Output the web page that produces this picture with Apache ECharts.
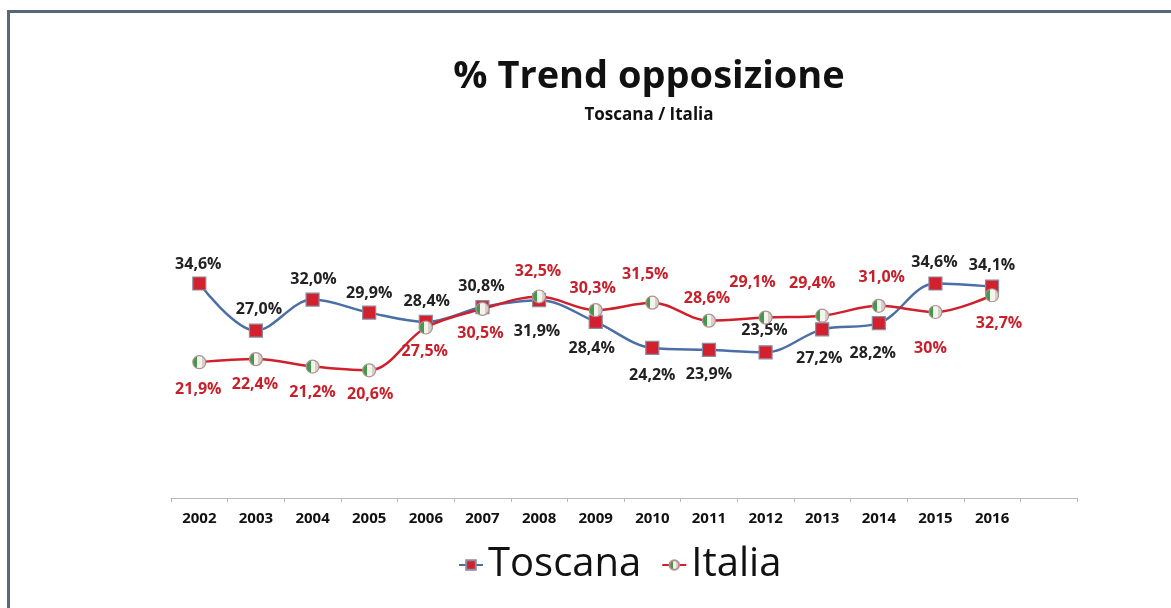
<!DOCTYPE html>
<html>
<head>
<meta charset="utf-8">
<script src="https://cdn.jsdelivr.net/npm/echarts@6/dist/echarts.min.js"></script>
<style>
  html, body { margin: 0; padding: 0; background: #fff; }
  #frame {
    position: absolute; left: 7px; top: 10px; width: 1200px; height: 640px;
    border-top: 3px solid #56667f; border-left: 3px solid #56667f;
  }
  #chart { position: absolute; left: 0; top: 0; width: 1171px; height: 608px; }
</style>
</head>
<body>
<div id="frame"></div>
<div id="chart"></div>
<script>
// Percentage of opposition by year, Tuscany vs Italy
const years = ['2002','2003','2004','2005','2006','2007','2008','2009','2010','2011','2012','2013','2014','2015','2016',''];
const toscana = [34.6, 27.0, 32.0, 29.9, 28.4, 30.8, 31.9, 28.4, 24.2, 23.9, 23.5, 27.2, 28.2, 34.6, 34.1, null];
const italia  = [21.9, 22.4, 21.2, 20.6, 27.5, 30.5, 32.5, 30.3, 31.5, 28.6, 29.1, 29.4, 31.0, 30.0, 32.7, null];
const italiaText = ['21,9%','22,4%','21,2%','20,6%','27,5%','30,5%','32,5%','30,3%','31,5%','28,6%','29,1%','29,4%','31,0%','30%','32,7%'];

// label placement around each marker (dx, dy from the point)
const toscanaLabelShift = [[-1,-19],[3,-21],[1,-20],[0,-19],[1,-20],[-1,-21],[-2,31],[-4,27],[0,27],[0,25],[-1,-22],[-3,29],[-6,30],[-1,-21],[0,-21]];
const italiaLabelShift = [[-1,27],[-1,25],[0,26],[1,24],[-1,24],[-2,25],[-1,-25],[-3,-22],[-7,-28],[-2,-22],[-13,-35],[-10,-32],[3,-28],[-5,36],[7,28]];

const fontFamily = '"Open Sans", "Liberation Sans", sans-serif';

function fmt(v) { return v.toFixed(1).replace('.', ',') + '%'; }

const flagFill = new echarts.graphic.LinearGradient(0, 0, 1, 0, [
  { offset: 0, color: '#3f9a4a' }, { offset: 0.36, color: '#3f9a4a' },
  { offset: 0.36, color: '#f4f4ee' }, { offset: 0.68, color: '#f4f4ee' },
  { offset: 0.68, color: '#d8d0c8' }, { offset: 1, color: '#d8d0c8' }
]);

const toscanaData = toscana.map((v, i) => v == null ? null : {
  value: v,
  label: { offset: toscanaLabelShift[i], formatter: fmt(v) }
});
const italiaData = italia.map((v, i) => v == null ? null : {
  value: v,
  label: { offset: italiaLabelShift[i], formatter: italiaText[i] }
});

const chart = echarts.init(document.getElementById('chart'), null, { renderer: 'canvas' });
chart.setOption({
  animation: false,
  backgroundColor: 'transparent',
  title: [{
    text: '% Trend opposizione',
    left: 644, top: 53, textAlign: 'center',
    textStyle: { fontFamily, fontSize: 38, fontWeight: 'bold', color: '#111' }
  }, {
    text: 'Toscana / Italia',
    left: 644, top: 102, textAlign: 'center',
    textStyle: { fontFamily, fontSize: 17, fontWeight: 'bold', color: '#111' }
  }],
  legend: {
    bottom: 18, left: 453,
    itemWidth: 24, itemHeight: 12, itemGap: 20,
    textStyle: { fontFamily, fontSize: 40, color: '#111' },
    data: ['Toscana', 'Italia']
  },
  grid: { left: 171, right: 94, top: 250, bottom: 110 },
  xAxis: {
    type: 'category',
    data: years,
    boundaryGap: true,
    axisLine: { lineStyle: { color: '#b8b8b8', width: 1 } },
    axisTick: { show: true, length: 4, lineStyle: { color: '#b8b8b8' } },
    axisLabel: { fontFamily, fontSize: 15, fontWeight: 'bold', color: '#111', margin: 13 }
  },
  yAxis: {
    type: 'value', min: 0, max: 40,
    show: false,
    splitLine: { show: false }
  },
  series: [{
    name: 'Toscana',
    type: 'line',
    data: toscanaData,
    smooth: 0.35,
    symbol: 'rect',
    symbolSize: 13,
    lineStyle: { color: '#4a6ea6', width: 2.5 },
    itemStyle: { color: '#d3202e', borderColor: '#8a8aa0', borderWidth: 1.2 },
    label: {
      show: true, position: 'inside',
      fontFamily, fontSize: 16, fontWeight: 'bold', color: '#222'
    },
    z: 3
  }, {
    name: 'Italia',
    type: 'line',
    data: italiaData,
    smooth: 0.35,
    symbol: 'circle',
    symbolSize: 13,
    lineStyle: { color: '#d0202c', width: 2.5 },
    itemStyle: { color: flagFill, borderColor: '#b09090', borderWidth: 1.2 },
    label: {
      show: true, position: 'inside',
      fontFamily, fontSize: 16, fontWeight: 'bold', color: '#c8202a'
    },
    z: 4
  }]
});
</script>
</body>
</html>
